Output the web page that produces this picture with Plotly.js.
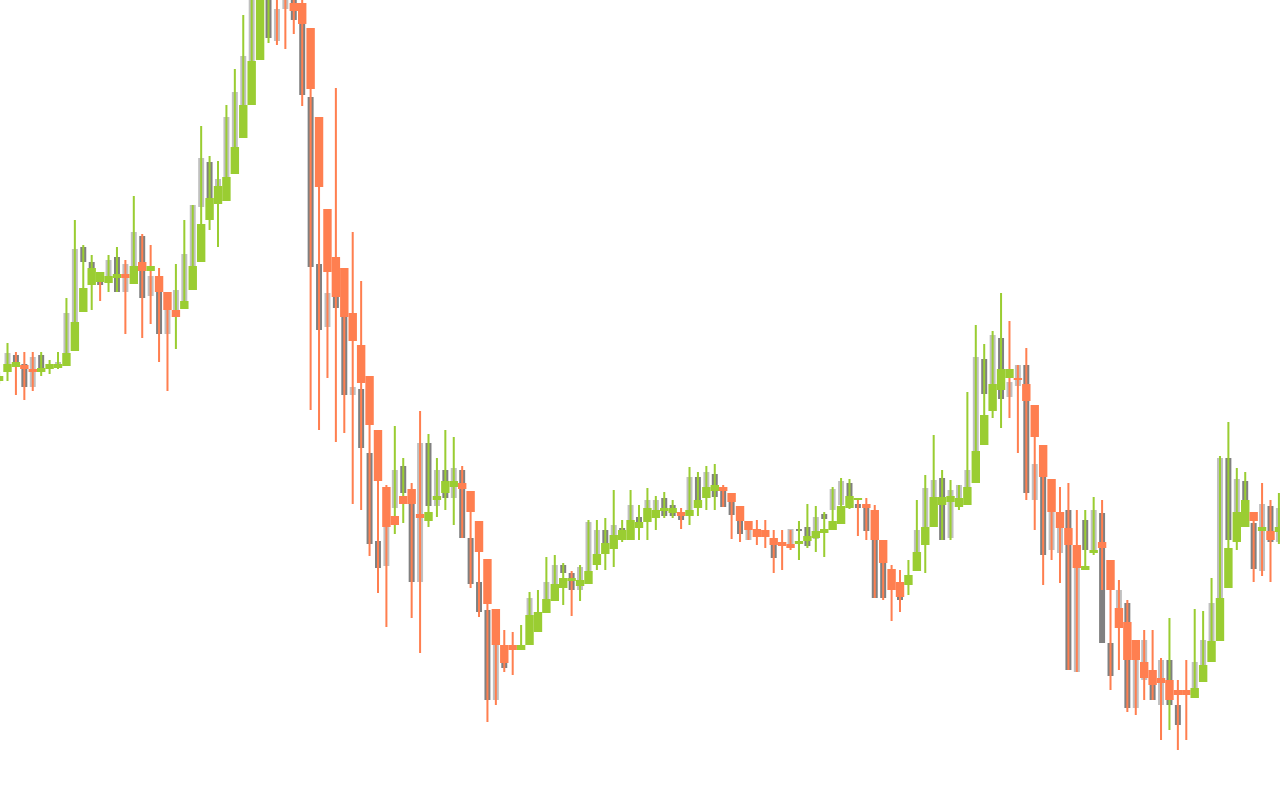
<!DOCTYPE html>
<html>
<head>
<meta charset="utf-8">
<script src="https://cdn.plot.ly/plotly-3.0.1.min.js"></script>
<style>html,body{margin:0;padding:0;background:#fff;}#chart{width:1280px;height:800px;}</style>
</head>
<body>
<div id="chart"></div>
<script>
// Grey candles (narrow, behind)
const greyOpen = [null,431,445,436,413,445,431,435,447,478,
553,538,526,524,543,508,534,564,504,508,
466,490,499,534,593,638,614,623,653,695,
739,800,810,759,791,805,776,703,536,473,
503,483,405,411,347,259,234,292,334,296,
218,357,294,330,302,330,262,218,190,100,
140,null,null,185,null,201,216,235,227,210,
229,245,270,260,272,280,283,290,290,302,
295,286,284,323,313,326,310,298,279,260,
null,null,260,null,256,271,273,261,286,290,
295,317,296,292,280,252,null,210,null,248,
273,303,322,262,300,313,349,441,416,462,
403,414,435,300,323,250,247,290,128,280,
250,287,157,190,197,92,120,120,95,140,
95,null,110,135,159,202,342,288,319,277,
229,294,258];
const greyClose = [null,447,437,413,443,430,434,438,487,551,
538,515,515,540,508,536,568,502,524,466,
490,510,546,595,642,602,621,683,708,744,
820,860,762,791,810,780,705,533,470,507,
492,405,413,352,256,232,273,330,307,218,
357,294,330,302,332,262,216,188,100,155,
132,null,null,202,null,218,235,227,210,233,
278,270,257,275,262,295,272,300,300,284,
284,280,323,300,328,303,293,285,266,270,
null,null,242,null,271,269,254,283,281,311,
319,294,292,269,202,202,null,200,null,270,
312,320,260,310,315,330,443,406,465,401,
418,435,307,336,245,310,280,130,252,250,
290,157,124,210,92,140,160,100,140,95,
75,null,138,160,197,342,260,321,300,231,
296,258,292];

// Coloured candle bodies
const bodyOpen = [419,428,433,435,431,428,431,432,434,449,
488,515,518,517,522,526,516,538,529,524,
508,490,491,510,538,580,596,599,626,662,
695,740,810,830,820,797,797,772,683,591,
543,532,487,455,424,370,313,284,304,311,
286,279,300,307,313,317,309,279,241,191,
155,155,150,155,168,187,199,212,219,214,
216,235,246,251,260,260,272,278,282,289,
287,288,284,292,302,309,313,307,294,279,
271,270,262,258,256,256,259,262,267,270,
276,292,300,296,290,260,231,218,215,229,
255,273,295,298,293,295,317,355,389,410,
422,422,416,395,355,321,288,272,255,230,
247,258,240,192,178,160,138,130,122,120,
110,110,102,118,138,159,212,258,273,288,
269,269,268];
const bodyClose = [424,436,438,431,428,432,436,436,447,478,
512,532,528,524,526,522,534,529,534,508,
490,483,499,534,576,602,614,623,653,695,
739,810,840,805,802,789,776,711,613,528,
503,483,459,417,375,319,273,275,296,296,
282,288,304,319,319,311,288,248,196,155,
137,150,155,185,188,201,216,222,222,220,
229,246,257,265,270,280,278,292,290,292,
292,284,290,300,313,315,309,298,279,270,
263,263,255,254,252,259,264,269,271,279,
294,304,302,292,260,237,210,203,225,248,
273,303,303,304,302,313,349,385,416,431,
431,420,399,363,323,288,272,255,232,234,
250,252,210,172,140,140,122,115,117,100,
105,105,112,135,159,202,252,288,300,279,
273,260,273];

// Wick extents and wick colour (1 = up colour, 0 = down colour)
const wickHigh = [428,457,448,448,448,448,440,448,502,580,
555,545,528,545,553,540,604,566,555,532,
508,536,580,595,674,644,639,695,731,785,
830,870,850,840,830,810,805,772,683,591,
712,532,568,519,424,370,315,374,342,317,
389,366,342,370,363,334,309,279,241,191,
170,168,175,208,210,243,245,237,229,235,
280,280,282,310,280,310,295,312,304,308,
300,292,333,328,334,336,315,307,294,279,
280,280,270,270,270,279,296,294,288,313,
322,321,301,302,295,260,235,230,240,300,
325,365,330,320,315,408,475,456,469,507,
479,435,452,395,355,321,313,317,290,290,
303,300,240,220,200,160,170,170,142,182,
120,140,191,189,222,344,378,332,328,288,
317,300,307];
const wickLow = [416,419,405,400,409,424,426,431,434,477,
488,490,499,508,508,466,516,462,476,438,
409,451,491,510,538,570,553,599,626,662,
695,740,757,755,751,766,694,390,370,422,
358,367,296,290,244,207,173,266,277,182,
147,273,283,290,275,262,212,183,78,95,
128,125,150,155,168,187,199,195,184,199,
216,230,230,233,258,260,260,260,270,282,
282,271,275,284,290,290,293,261,258,260,
255,252,227,230,250,240,252,248,243,270,
276,291,264,260,202,200,179,188,205,229,
227,273,260,260,290,295,317,355,382,372,
382,347,300,270,215,240,217,130,128,230,
245,210,110,130,88,85,100,100,60,70,
50,60,102,118,138,159,212,250,273,218,
224,218,256];
const wickUp = [1,1,0,0,0,1,1,1,1,1,
1,1,0,1,1,0,1,0,0,0,
0,1,1,1,1,1,1,1,1,1,
1,1,1,0,0,0,0,0,0,0,
0,0,0,0,0,0,0,1,1,0,
0,1,1,1,1,0,0,0,0,0,
0,0,1,1,1,1,1,1,0,1,
1,1,1,1,1,1,1,1,1,1,
1,0,1,1,1,1,0,0,0,0,
0,0,0,0,0,1,1,1,1,1,
1,1,0,0,0,0,0,0,1,1,
1,1,1,1,1,1,1,1,1,1,
0,0,0,0,0,0,0,0,0,1,
1,0,0,0,0,0,0,0,0,1,
0,0,1,1,1,1,1,1,1,0,
0,0,1];

const UP = '#9ACD32', DOWN = '#FF7F50', GREY_UP = '#C0C0C0', GREY_DOWN = '#808080';

const days = greyOpen.map((_, i) => i);

function bodyTrace(o, c, width, upColor, downColor) {
  const base = [], h = [], col = [];
  for (let i = 0; i < o.length; i++) {
    if (o[i] === null || c[i] === null) { base.push(null); h.push(null); col.push(upColor); continue; }
    base.push(Math.min(o[i], c[i]));
    h.push(Math.max(Math.abs(c[i] - o[i]), 1));
    col.push(c[i] >= o[i] ? upColor : downColor);
  }
  return {type: 'bar', x: days, base: base, y: h, width: width,
          marker: {color: col, line: {width: 0}}, hoverinfo: 'skip', showlegend: false};
}

const greyTrace = bodyTrace(greyOpen, greyClose, 0.71, GREY_UP, GREY_DOWN);
const wickTrace = {
  type: 'bar', x: days, base: wickLow,
  y: wickHigh.map((h, i) => h - wickLow[i]), width: 0.24,
  marker: {color: wickUp.map(u => u ? UP : DOWN), line: {width: 0}},
  hoverinfo: 'skip', showlegend: false
};
const colTrace = bodyTrace(bodyOpen, bodyClose, 1.0, UP, DOWN);

const layout = {
  width: 1280, height: 800,
  margin: {l: 0, r: 0, t: 0, b: 0, pad: 0},
  paper_bgcolor: '#ffffff', plot_bgcolor: '#ffffff',
  barmode: 'overlay', showlegend: false, hovermode: false,
  xaxis: {range: [0.109, 152.13], visible: false, showgrid: false, zeroline: false},
  yaxis: {range: [0, 800], visible: false, showgrid: false, zeroline: false}
};

Plotly.newPlot('chart', [greyTrace, wickTrace, colTrace], layout, {displayModeBar: false, staticPlot: true});
</script>
</body>
</html>
